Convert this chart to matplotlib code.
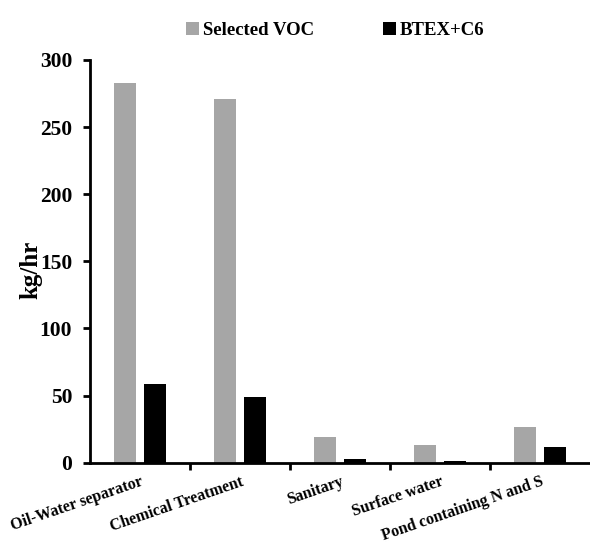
import matplotlib.pyplot as plt
import numpy as np

plt.rcParams['font.family'] = ['Liberation Serif', 'DejaVu Serif']
plt.rcParams['font.weight'] = 'bold'

categories = ['Oil-Water separator', 'Chemical Treatment', 'Sanitary',
              'Surface water', 'Pond containing N and S']
selected_voc = [283, 271, 19.5, 13.5, 27]
btex_c6 = [59, 49, 2.5, 1.5, 12]

x = np.arange(len(categories))
w = 0.22

fig = plt.figure(figsize=(5.9, 5.49), dpi=100)
ax = fig.add_axes([0.153, 0.157, 0.847, 0.734])

ax.bar(x - 0.15, selected_voc, w, color='#a6a6a6', label='Selected VOC')
ax.bar(x + 0.15, btex_c6, w, color='black', label='BTEX+C6')

ax.set_xlim(-0.5, len(categories) - 0.5)
ax.set_ylim(0, 300)
ax.set_yticks(range(0, 301, 50))
ax.set_ylabel('kg/hr', fontsize=18, fontweight='bold')
ax.yaxis.set_label_coords(-0.095, 0.48)

ax.set_xticks(x)
ax.set_xticklabels(categories, rotation=19, ha='right', fontsize=11.5,
                   fontweight='bold', rotation_mode='anchor')
ax.tick_params(axis='x', which='major', length=0, pad=8)
ax.set_xticks(np.arange(0.5, len(categories) - 0.5, 1), minor=True)
ax.tick_params(axis='x', which='minor', length=5, width=2, direction='out')
ax.tick_params(axis='y', labelsize=15.5, length=5, width=2, pad=8)

for s in ['top', 'right']:
    ax.spines[s].set_visible(False)
for s in ['left', 'bottom']:
    ax.spines[s].set_linewidth(2)

ax.legend(loc='upper center', bbox_to_anchor=(0.49, 1.135), ncol=2, frameon=False,
          fontsize=13.5, handlelength=0.7, handleheight=0.7, handletextpad=0.2,
          columnspacing=3.7)

fig.savefig('out.png', dpi=100)
